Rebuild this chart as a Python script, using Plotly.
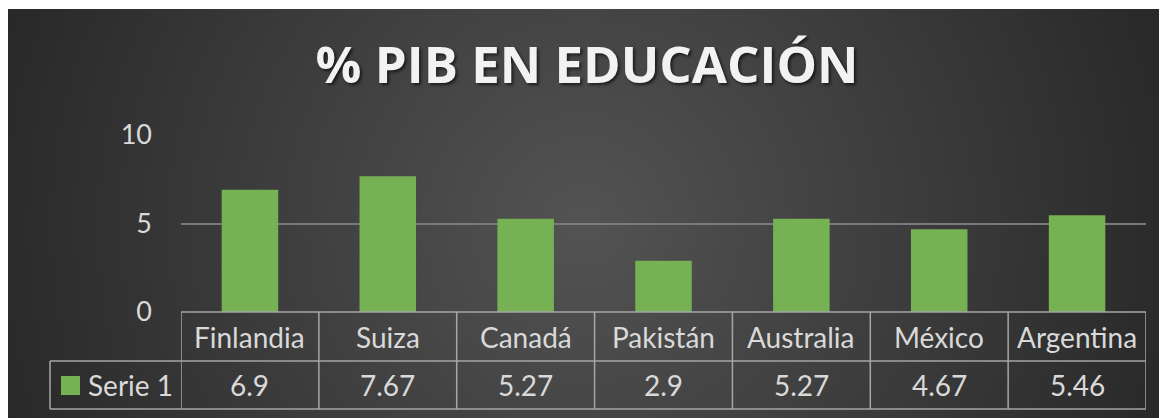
import base64
import plotly.graph_objects as go

# ---- data ----
categories = ["Finlandia", "Suiza", "Canadá", "Pakistán", "Australia", "México", "Argentina"]
values = [6.9, 7.67, 5.27, 2.9, 5.27, 4.67, 5.46]
series_name = "Serie 1"
title_text = "% PIB EN EDUCACIÓN"
y_ticks = [0, 5, 10]

# ---- layout constants (page pixels; the page body adds an 8px margin) ----
OFF = 8
W, H = 1167 - OFF, 418 - OFF          # figure size so it fits the window
PL, PR, PT, PB = 181, 1146, 135, 312  # plot area in page pixels
L, R, T, B = PL - OFF, W - (PR - OFF), PT - OFF, H - (PB - OFF)
PW, PH = W - L - R, H - T - B
BAR_COLOR = "#76b154"
TEXT_COLOR = "#d9d9d9"
LINE_COLOR = "#a6a6a6"
FONT = "Lato"


def px_x(px):  # page x -> paper
    return (px - OFF - L) / PW


def px_y(py):  # page y -> paper
    return (H - B - (py - OFF)) / PH


# background radial gradient as svg image (page x 5.. , y 9..)
bg_x0, bg_y0 = max(5, OFF), 9
bw, bh = 1167 - bg_x0, 418 - bg_y0
cx, cy = 583 - bg_x0, 225 - bg_y0
svg = f'''<svg xmlns="http://www.w3.org/2000/svg" width="{bw}" height="{bh}" viewBox="0 0 {bw} {bh}" preserveAspectRatio="none">
<defs><radialGradient id="g" gradientUnits="userSpaceOnUse" cx="{cx}" cy="{cy}" r="660">
<stop offset="0" stop-color="#535353"/><stop offset="1" stop-color="#252525"/></radialGradient></defs>
<rect x="0" y="0" width="{bw}" height="{bh}" fill="url(#g)"/></svg>'''
bg_src = "data:image/svg+xml;base64," + base64.b64encode(svg.encode()).decode()

fig = go.Figure()
fig.add_trace(go.Bar(
    x=categories, y=values, name=series_name, width=0.41,
    marker=dict(color=BAR_COLOR, line=dict(width=0)),
    showlegend=False, hoverinfo="x+y",
))

shapes = []
line = dict(color=LINE_COLOR, width=1.5)
y_top, y_mid, y_bot = 312, 361, 409
# horizontal table lines
shapes.append(dict(type="line", xref="paper", yref="paper", x0=0, x1=1,
                   y0=px_y(y_top), y1=px_y(y_top), line=line))
for py in (y_mid, y_bot):
    shapes.append(dict(type="line", xref="paper", yref="paper", x0=px_x(50), x1=1,
                       y0=px_y(py), y1=px_y(py), line=line))
# vertical lines
shapes.append(dict(type="line", xref="paper", yref="paper", x0=px_x(50), x1=px_x(50),
                   y0=px_y(y_mid), y1=px_y(y_bot), line=line))
for i in range(len(categories) + 1):
    xv = i - 0.5
    shapes.append(dict(type="line", xref="x", yref="paper", x0=xv, x1=xv,
                       y0=px_y(y_top), y1=px_y(y_bot), line=line))
# legend key
shapes.append(dict(type="rect", xref="paper", yref="paper", x0=px_x(61), x1=px_x(80),
                   y0=px_y(395), y1=px_y(376), fillcolor=BAR_COLOR, line=dict(width=0)))

tfont = dict(family=FONT, size=28, color=TEXT_COLOR)
annotations = []
for c, v in zip(categories, values):
    annotations.append(dict(x=c, xref="x", y=px_y(337), yref="paper", text=c, showarrow=False,
                            xanchor="center", yanchor="middle", font=tfont))
    annotations.append(dict(x=c, xref="x", y=px_y(385), yref="paper", text=f"{v:g}", showarrow=False,
                            xanchor="center", yanchor="middle", font=tfont))
annotations.append(dict(x=px_x(86), xref="paper", y=px_y(385), yref="paper", text=series_name,
                        showarrow=False, xanchor="left", yanchor="middle", font=tfont))

fig.update_layout(
    width=W, height=H,
    margin=dict(l=L, r=R, t=T, b=B, pad=0),
    paper_bgcolor="white",
    plot_bgcolor="rgba(0,0,0,0)",
    title=dict(text=title_text, x=(587 - OFF) / W, xref="container", xanchor="center",
               y=1 - (65 - OFF) / H, yref="container", yanchor="middle",
               font=dict(family="Open Sans", size=51, weight="bold", color="#f2f2f2",
                         shadow="2px 2px 3px rgba(0,0,0,0.6)")),
    images=[dict(source=bg_src, xref="paper", yref="paper",
                 x=px_x(bg_x0), y=px_y(bg_y0), sizex=bw / PW, sizey=bh / PH,
                 xanchor="left", yanchor="top", sizing="stretch", layer="below")],
    shapes=shapes,
    annotations=annotations,
    xaxis=dict(showticklabels=False, showgrid=False, zeroline=False, showline=False,
               range=[-0.5, len(categories) - 0.5], fixedrange=True),
    yaxis=dict(range=[0, 10], tickvals=y_ticks, ticktext=[str(t) for t in y_ticks],
               showgrid=True, gridcolor="#7a7a7a", gridwidth=1.5, zeroline=False, showline=False,
               ticks="", ticklabelstandoff=28,
               tickfont=dict(family=FONT, size=27, color=TEXT_COLOR), fixedrange=True),
    bargap=0.59,
)

fig.write_html("out.html")
